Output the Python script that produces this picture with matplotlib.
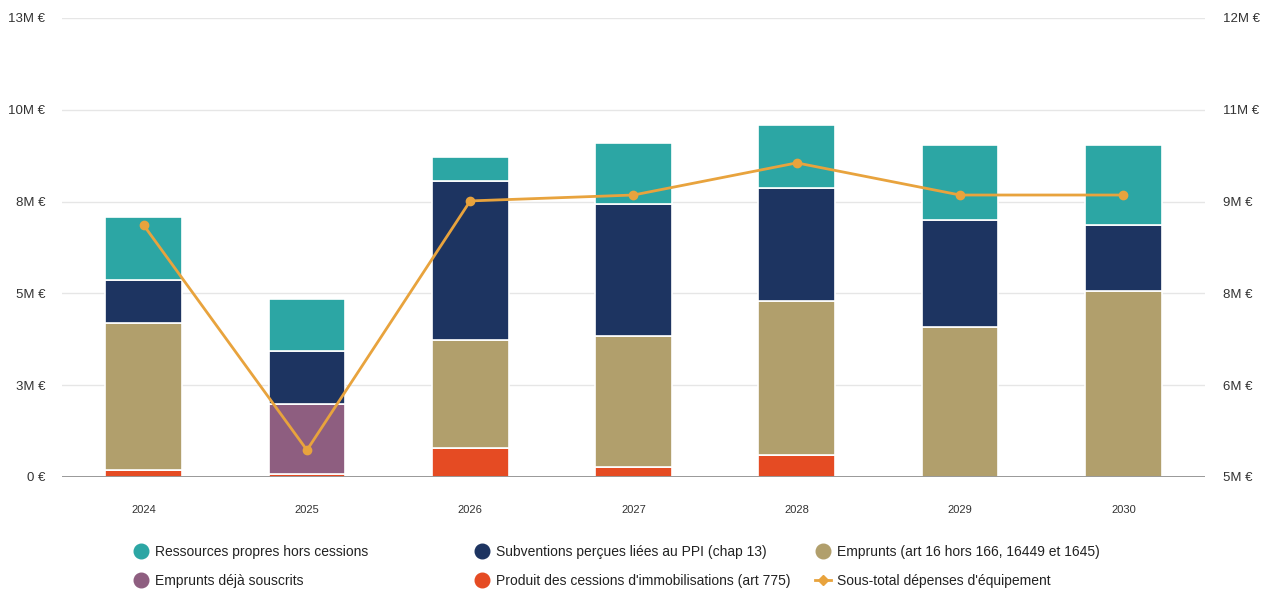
import matplotlib
matplotlib.use("Agg")
import matplotlib.pyplot as plt
from matplotlib.lines import Line2D
import numpy as np

plt.rcParams['font.family'] = ['Liberation Sans', 'DejaVu Sans']

# Données (en millions d'euros)
annees = ["2024", "2025", "2026", "2027", "2028", "2029", "2030"]
produit_cessions = [0.19, 0.07, 0.79, 0.27, 0.60, 0.0, 0.0]
emprunts_souscrits = [0.0, 1.92, 0.0, 0.0, 0.0, 0.0, 0.0]
emprunts_art16 = [4.01, 0.0, 2.94, 3.57, 4.20, 4.09, 5.07]
subventions = [1.17, 1.44, 4.34, 3.60, 3.07, 2.91, 1.80]
ressources_propres = [1.71, 1.42, 0.65, 1.66, 1.72, 2.05, 2.18]
sous_total = [8.84, 5.41, 9.21, 9.30, 9.79, 9.30, 9.30]

ticks_gauche = [0, 2.5, 5, 7.5, 10, 12.5]
labels_gauche = ["0 €", "3M €", "5M €", "8M €", "10M €", "13M €"]
ticks_droite = [5, 6.4, 7.8, 9.2, 10.6, 12]
labels_droite = ["5M €", "6M €", "8M €", "9M €", "11M €", "12M €"]

c_cessions = "#E54B23"
c_souscrits = "#8E5E80"
c_emprunts = "#B19F6C"
c_subv = "#1D3461"
c_propres = "#2CA6A4"
c_ligne = "#E8A33D"

series = [
    (produit_cessions, c_cessions),
    (emprunts_souscrits, c_souscrits),
    (emprunts_art16, c_emprunts),
    (subventions, c_subv),
    (ressources_propres, c_propres),
]

fig = plt.figure(figsize=(12.74, 5.99), dpi=100)
ax = fig.add_axes([0.0487, 0.2037, 0.8971, 0.7663])
ax2 = ax.twinx()

x = np.arange(len(annees))
base = np.zeros(len(annees))
for vals, couleur in series:
    ax.bar(x, vals, bottom=base, width=0.47, color=couleur, edgecolor="white",
           linewidth=1.2, zorder=2)
    base += np.array(vals)

ax2.plot(x, sous_total, color=c_ligne, linewidth=2, marker="o", markersize=6, zorder=3)

ax.set_xlim(-0.5, len(annees) - 0.5)
ax.set_ylim(0, 12.5)
ax2.set_ylim(5, 12)

ax.set_yticks(ticks_gauche)
ax.set_yticklabels(labels_gauche)
ax2.set_yticks(ticks_droite)
ax2.set_yticklabels(labels_droite)
ax.set_xticks(x)
ax.set_xticklabels(annees)

ax.grid(axis="y", color="#E6E6E6", linewidth=1, zorder=0)
ax.set_axisbelow(True)
for a in (ax, ax2):
    for s in a.spines.values():
        s.set_visible(False)
ax.axhline(0, color="#888888", linewidth=1.2, zorder=4)

ax.tick_params(axis="y", length=0, labelsize=9.5, labelcolor="#333333", pad=12)
ax2.tick_params(axis="y", length=0, labelsize=9.5, labelcolor="#333333", pad=13)
ax.tick_params(axis="x", length=0, labelsize=8, labelcolor="#333333", pad=20)

# Légende : trois colonnes de deux entrées
def rond(c):
    return Line2D([], [], linestyle="none", marker="o", markersize=10.5,
                  markerfacecolor=c, markeredgecolor=c)

colonnes = [
    ([rond(c_propres), rond(c_souscrits)],
     ["Ressources propres hors cessions", "Emprunts déjà souscrits"], 0.1042),
    ([rond(c_subv), rond(c_cessions)],
     ["Subventions perçues liées au PPI (chap 13)",
      "Produit des cessions d'immobilisations (art 775)"], 0.3718),
    ([rond(c_emprunts), Line2D([], [], color=c_ligne, linewidth=2, marker="D", markersize=5)],
     ["Emprunts (art 16 hors 166, 16449 et 1645)", "Sous-total dépenses d'équipement"], 0.6395),
]
for handles, labels, x0 in colonnes:
    leg = fig.legend(handles, labels, loc="center left", bbox_to_anchor=(x0, 0.0543),
                     frameon=False, fontsize=10, handlelength=1.2, handletextpad=0.4,
                     labelspacing=1.1, borderpad=0, borderaxespad=0,
                     labelcolor="#222222")

fig.savefig("out.png", dpi=100)
